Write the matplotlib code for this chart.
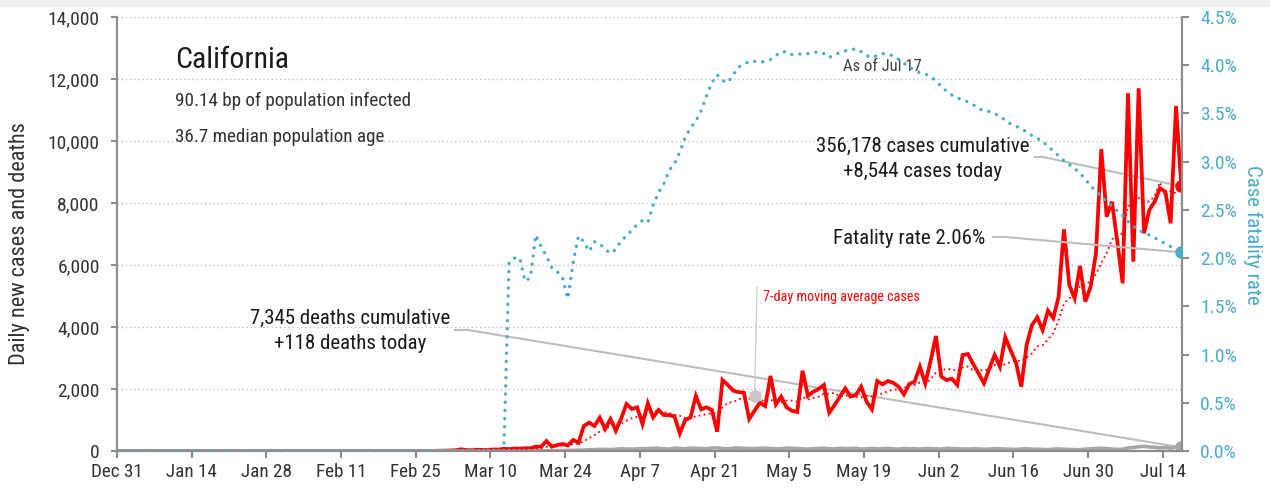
import matplotlib
matplotlib.use("Agg")
import matplotlib.pyplot as plt
import matplotlib.dates as mdates
from matplotlib import font_manager
from matplotlib.patches import Rectangle
import numpy as np
import pandas as pd

# pick a narrow font if one is installed
installed = {f.name for f in font_manager.fontManager.ttflist}
candidates = ["Roboto Condensed", "Liberation Sans Narrow", "DejaVu Sans Condensed", "DejaVu Sans"]
font_name = next(f for f in candidates if f in installed)
plt.rcParams["font.family"] = [font_name, "DejaVu Sans"]

# daily data, Dec 31 2019 .. Jul 17 2020
dates = pd.date_range("2019-12-31", "2020-07-17", freq="D")

cases = [
    0, 0, 0, 0, 0, 0, 0, 0, 0, 0,
    0, 0, 0, 0, 0, 0, 0, 0, 0, 0,
    0, 0, 0, 0, 0, 0, 2, 0, 0, 0,
    0, 1, 1, 0, 3, 0, 0, 0, 0, 0,
    0, 0, 0, 0, 0, 0, 0, 0, 0, 0,
    0, 0, 0, 0, 0, 2, 0, 3, 1, 4,
    10, 12, 20, 25, 55, 30, 25, 40, 35, 30,
    50, 45, 70, 60, 80, 75, 90, 87, 140, 140,
    320, 140, 190, 225, 180, 355, 270, 806, 915, 806,
    1075, 710, 1032, 656, 1050, 1516, 1355, 1410, 870, 1538,
    1085, 1322, 1160, 1160, 1110, 570, 1000, 1085, 1774, 1344,
    1410, 1322, 624, 2290, 2130, 1946, 1900, 1882, 1032, 1300,
    1560, 1450, 2420, 1506, 1753, 1410, 1300, 1258, 2590, 1774,
    1913, 2000, 2130, 1236, 1484, 1750, 2020, 1753, 1806, 2075,
    1592, 1344, 2258, 2150, 2258, 2200, 2075, 1828, 2160, 2236,
    2720, 2180, 2900, 3710, 2400, 2290, 2330, 2130, 3097, 3130,
    2800, 2500, 2183, 2650, 3097, 2720, 3667, 3250, 2850, 2075,
    3420, 4065, 4312, 3903, 4527, 4290, 4980, 7150, 5355, 4925,
    5970, 4818, 5300, 6378, 9733, 7560, 8042, 6752, 5410, 11540,
    6107, 11700, 7023, 7775, 8042, 8475, 8367, 7345, 11130, 8544,
]

deaths = [0] * 70 + [
    0, 1, 1, 2, 1, 3, 2, 5, 4, 8,
    6, 10, 12, 15, 18, 20, 25, 30, 40, 45,
    50, 55, 45, 60, 70, 65, 60, 70, 75, 80,
    85, 90, 70, 60, 95, 80, 70, 90, 85, 80,
    75, 95, 100, 80, 70, 90, 95, 85, 80, 75,
    85, 90, 80, 70, 75, 95, 85, 80, 70, 60,
    75, 80, 90, 70, 65, 85, 80, 75, 90, 60,
    70, 80, 65, 75, 85, 70, 60, 80, 75, 70,
    65, 75, 80, 70, 60, 85, 75, 70, 65, 60,
    70, 65, 55, 60, 75, 70, 60, 55, 50, 65,
    70, 60, 55, 50, 45, 60, 65, 55, 50, 45,
    40, 60, 70, 80, 90, 75, 60, 50, 55, 100,
    110, 140, 150, 130, 120, 100, 115, 90, 130, 118,
]

# case fatality rate in percent
fatality = [0.0] * 73 + [
    1.96, 2.00, 2.00, 1.76, 1.80, 2.24, 2.12,
    2.02, 1.90, 1.86, 1.80, 1.58, 1.95, 2.23, 2.17, 2.07, 2.17,
    2.15, 2.09, 2.05, 2.09, 2.18, 2.23, 2.29, 2.35, 2.39, 2.37,
    2.55, 2.68, 2.77, 2.91, 2.98, 3.10, 3.25, 3.35, 3.42, 3.53,
    3.68, 3.82, 3.90, 3.84, 3.82, 3.90, 3.98, 4.01, 4.04, 4.04,
    4.03, 4.04, 4.06, 4.10, 4.14, 4.14, 4.11, 4.12, 4.11, 4.12,
    4.13, 4.14, 4.12, 4.08, 4.11, 4.13, 4.15, 4.16, 4.17, 4.14,
    4.10, 4.08, 4.10, 4.12, 4.11, 4.10, 4.06, 4.02, 3.98, 3.95,
    3.92, 3.91, 3.88, 3.84, 3.78, 3.73, 3.69, 3.66, 3.64, 3.62,
    3.59, 3.55, 3.53, 3.52, 3.50, 3.47, 3.43, 3.39, 3.37, 3.34,
    3.31, 3.27, 3.24, 3.21, 3.16, 3.11, 3.06, 3.01, 2.97, 2.93,
    2.88, 2.82, 2.75, 2.69, 2.64, 2.59, 2.54, 2.49, 2.44, 2.38,
    2.33, 2.29, 2.26, 2.24, 2.21, 2.18, 2.15, 2.12, 2.09, 2.06,
]

tick_dates = pd.date_range("2019-12-31", "2020-07-14", freq="14D")

RED = "#ff0000"
TEAL = "#4bacc6"
GREY = "#a6a6a6"
AXGREY = "#8c8c8c"
TXT = "#1a1a1a"

avg7 = pd.Series(cases).rolling(7).mean()
x = dates + pd.Timedelta(hours=12)

fig = plt.figure(figsize=(12.7, 4.91), dpi=100)
fig.patches.append(Rectangle((0, 1 - 6 / 491), 1, 6 / 491, transform=fig.transFigure,
                             color="#f0f0f0", zorder=0))
ax = fig.add_axes([117 / 1270, 40 / 491, 1065 / 1270, 434 / 491])
ax2 = ax.twinx()

ax.plot(x, cases, color=RED, lw=2.7, zorder=3, solid_joinstyle="miter")
ax.plot(x, deaths, color=GREY, lw=2.6, zorder=4)
ax.plot(x, avg7, color=RED, lw=1.3, ls=(0, (1, 1.8)), zorder=5)
ax2.plot(x, fatality, color=TEAL, lw=2.4, ls=(0, (0.05, 2.4)), dash_capstyle="round", zorder=3)

ax.plot(x[-1], cases[-1], "o", color=RED, ms=8, zorder=6)
ax.plot(x[-1], deaths[-1], "o", color=GREY, ms=8, zorder=6)
ax2.plot(x[-1], fatality[-1], "o", color=TEAL, ms=8, zorder=6)

ax.set_xlim(dates[0], dates[-1] + pd.Timedelta(hours=15))
ax.set_ylim(0, 14000)
ax2.set_ylim(0, 4.5)

ax.set_xticks(tick_dates)
ax.xaxis.set_major_formatter(mdates.DateFormatter("%b %-d"))
ax.set_yticks(np.arange(0, 14001, 2000))
ax.yaxis.set_major_formatter(matplotlib.ticker.FuncFormatter(lambda v, p: f"{int(v):,}"))
ax2.set_yticks(np.arange(0, 4.51, 0.5))
ax2.yaxis.set_major_formatter(matplotlib.ticker.FuncFormatter(lambda v, p: f"{v:.1f}%"))

for a in (ax, ax2):
    a.spines["top"].set_visible(False)
    for s in ("left", "right", "bottom"):
        a.spines[s].set_color(AXGREY)
        a.spines[s].set_linewidth(1.5)
ax.grid(axis="y", color="#c0c0c0", lw=1, ls=(0, (1, 2)))
ax.set_axisbelow(True)
ax.tick_params(axis="y", colors=AXGREY, labelcolor="#333333", labelsize=14, length=4, width=1.5, pad=8.5)
ax.tick_params(axis="x", colors=AXGREY, labelcolor="#333333", labelsize=13.8, length=5, width=1.5, pad=3.5)
ax2.tick_params(axis="y", colors=AXGREY, labelcolor=TEAL, labelsize=14, length=5, width=1.5, pad=8)

fig.text(20 / 1270, 1 - 244 / 491, "Daily new cases and deaths", rotation=90,
         ha="center", va="center", fontsize=16, color="#333333")
fig.text(1253 / 1270, 1 - 235 / 491, "Case fatality rate", rotation=270,
         ha="center", va="center", fontsize=15, color=TEAL)

# text block top left
ax.text(0.0545, 0.9009, "California", transform=ax.transAxes, fontsize=21.5, color=TXT, va="center")
ax.text(0.0545, 0.8065, "90.14 bp of population infected", transform=ax.transAxes,
        fontsize=13.8, color="#333333", va="center")
ax.text(0.0545, 0.7235, "36.7 median population age", transform=ax.transAxes,
        fontsize=13.8, color="#333333", va="center")
ax.text(0.7183, 0.887, "As of Jul 17", transform=ax.transAxes, fontsize=12,
        color="#404040", ha="center", va="center")

LEAD = "#bdbdbd"
# cases label
ax.text(0.7568, 0.6728, "356,178 cases cumulative\n+8,544 cases today", transform=ax.transAxes,
        fontsize=15, color=TXT, ha="center", va="center", linespacing=1.35)
ax.plot([0.862, 0.8695], [0.6774, 0.6774], color=LEAD, lw=1.5, transform=ax.transAxes, zorder=2)
ax.annotate("", xy=(x[-1], cases[-1]), xycoords="data", xytext=(0.8695, 0.6774),
            textcoords="axes fraction",
            arrowprops=dict(arrowstyle="-", color=LEAD, lw=1.5, shrinkA=0, shrinkB=0), zorder=2)

# fatality label
ax.text(0.815, 0.4885, "Fatality rate 2.06%", transform=ax.transAxes, fontsize=15,
        color=TXT, ha="right", va="center")
ax.plot([0.8225, 0.8338], [0.4931, 0.4931], color=LEAD, lw=1.5, transform=ax.transAxes, zorder=2)
ax2.annotate("", xy=(x[-1], fatality[-1]), xycoords="data", xytext=(0.8338, 0.4931),
             textcoords="axes fraction",
             arrowprops=dict(arrowstyle="-", color=LEAD, lw=1.5, shrinkA=0, shrinkB=0), zorder=2)

# deaths label
ax.text(0.2192, 0.2765, "7,345 deaths cumulative\n+118 deaths today", transform=ax.transAxes,
        fontsize=15, color=TXT, ha="center", va="center", linespacing=1.35)
ax.plot([0.3174, 0.3296], [0.2788, 0.2788], color=LEAD, lw=1.5, transform=ax.transAxes, zorder=2)
ax.annotate("", xy=(x[-1], deaths[-1]), xycoords="data", xytext=(0.3296, 0.2788),
            textcoords="axes fraction",
            arrowprops=dict(arrowstyle="-", color=LEAD, lw=1.5, shrinkA=0, shrinkB=0), zorder=2)

# moving average callout
ax.plot(x[119], avg7[119], "o", color="#c8c8c8", ms=8, zorder=6)
ax.annotate("", xy=(x[119], avg7[119]), xycoords="data", xytext=(0.601, 0.378),
            textcoords="axes fraction",
            arrowprops=dict(arrowstyle="-", color="#d0d0d0", lw=1, shrinkA=0, shrinkB=0), zorder=2)
ax.text(0.6066, 0.355, "7-day moving average cases", transform=ax.transAxes, fontsize=10.2,
        color=RED, ha="left", va="center")

fig.savefig("out.png", dpi=100)
